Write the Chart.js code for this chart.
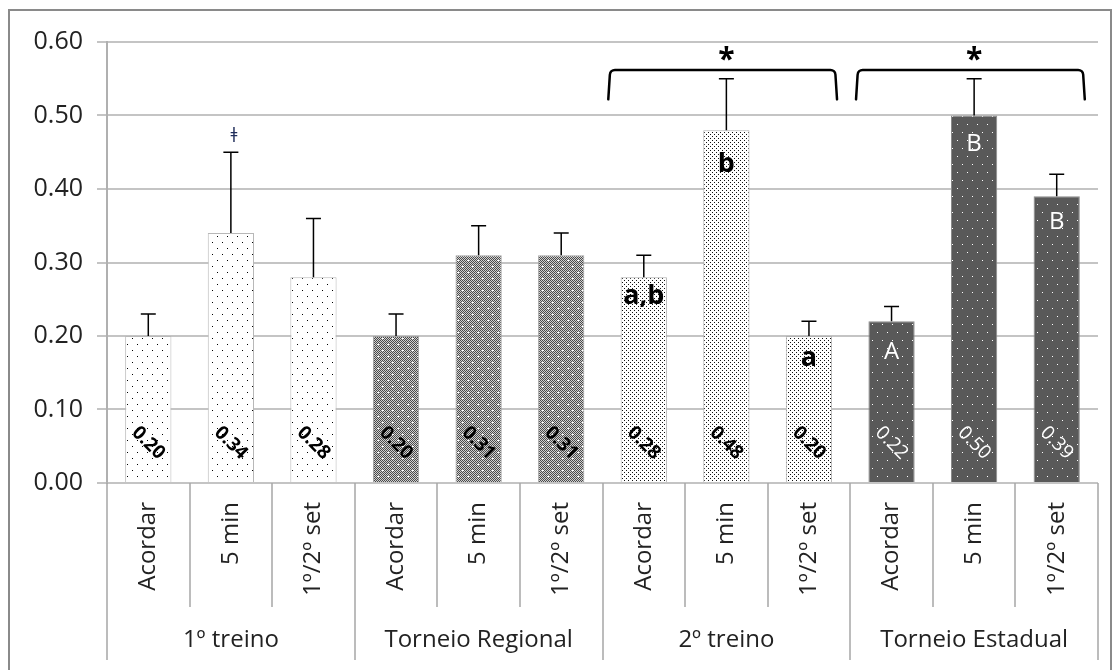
<!DOCTYPE html>
<html><head><meta charset="utf-8">
<script src="https://cdn.jsdelivr.net/npm/chart.js@4/dist/chart.umd.min.js"></script>
<style>html,body{margin:0;padding:0;background:#fff;}#wrap{width:1120px;height:670px;position:relative;}</style>
</head><body><div id="wrap"><canvas id="c" width="1120" height="670"></canvas></div>
<script>
// ---- data ----
const groups = ['1º treino', 'Torneio Regional', '2º treino', 'Torneio Estadual'];
const moments = ['Acordar', '5 min', '1º/2º set'];
const categories = ['Acordar','5 min','1º/2º set','Acordar','5 min','1º/2º set','Acordar','5 min','1º/2º set','Acordar','5 min','1º/2º set'];
const means  = [0.20, 0.34, 0.28, 0.20, 0.31, 0.31, 0.28, 0.48, 0.20, 0.22, 0.50, 0.39];
const errors = [0.03, 0.11, 0.08, 0.03, 0.04, 0.03, 0.03, 0.07, 0.02, 0.02, 0.05, 0.03];
const valueLabels = ['0.20','0.34','0.28','0.20','0.31','0.31','0.28','0.48','0.20','0.22','0.50','0.39'];
const letters = ['', '', '', '', '', '', 'a,b', 'b', 'a', 'A', 'B', 'B'];
const marks = ['', 'ǂ', '', '', '', '', '', '', '', '', '', ''];
const bracketGroups = [2, 3];
const bracketText = '*';
const yTicks = [0, 0.1, 0.2, 0.3, 0.4, 0.5, 0.6];

// ---- styles ----
const FONT = '"Open Sans", "DejaVu Sans", sans-serif';
function makePattern(w, h, bgFn, dots, dotColor) {
  const c = document.createElement('canvas');
  c.width = w; c.height = h;
  const g = c.getContext('2d');
  bgFn(g, w, h);
  g.fillStyle = dotColor;
  dots.forEach(d => g.fillRect(d[0], d[1], 1, 1));
  return document.createElement('canvas').getContext('2d').createPattern(c, 'repeat');
}
const solid = col => (g, w, h) => { g.fillStyle = col; g.fillRect(0, 0, w, h); };
const checker = (a, b) => (g, w, h) => {
  for (let y = 0; y < h; y++) for (let x = 0; x < w; x++) {
    g.fillStyle = ((x + y) % 2 === 0) ? a : b; g.fillRect(x, y, 1, 1);
  }
};
const patA = makePattern(10, 12, solid('#ffffff'), [[2,2],[7,8]], '#000000');
const patB = makePattern(10, 12, checker('#4a4a4a', '#d0d0d0'), [[2,2],[7,8],[3,2],[8,8]], '#ffffff');
const patC = makePattern(4, 4, solid('#ffffff'), [[0,0],[2,2]], '#101010');
const patD = makePattern(10, 16, solid('#595959'), [[2,4],[7,12]], '#ffffff');
const groupFill = [patA, patB, patC, patD];
const groupBorder = ['#b8b8b8', '#a0a0a0', '#b0b0b0', '#8a8a8a'];
const valueColor = ['#000', '#000', '#000', '#fff'];
const letterOffsets = [0,0,0,0,0,0,19,34,22,31,29,26];

const ctxEl = document.getElementById('c');

const annot = {
  id: 'annot',
  beforeDraw(chart) {
    const g = chart.ctx;
    g.save();
    g.strokeStyle = '#8a8a8a'; g.lineWidth = 2;
    g.beginPath();
    g.moveTo(9, 680); g.lineTo(9, 10); g.lineTo(1111, 10); g.lineTo(1111, 680);
    g.stroke();
    g.restore();
  },
  afterDatasetsDraw(chart) {
    const g = chart.ctx;
    const ys = chart.scales.y;
    const meta = chart.getDatasetMeta(0);
    const ca = chart.chartArea;
    const catW = (ca.right - ca.left) / categories.length;
    const base = ys.getPixelForValue(0);
    g.save();
    meta.data.forEach((bar, i) => {
      const grp = Math.floor(i / 3);
      const top = ys.getPixelForValue(means[i] + errors[i]);
      g.strokeStyle = '#000'; g.lineWidth = 1.5;
      g.beginPath();
      g.moveTo(bar.x, bar.y); g.lineTo(bar.x, top);
      g.moveTo(bar.x - 7.5, top); g.lineTo(bar.x + 7.5, top);
      g.stroke();
      g.save();
      g.translate(bar.x, base - 40);
      g.rotate(Math.PI / 4);
      g.fillStyle = valueColor[grp];
      g.font = (grp === 3 ? '' : 'bold ') + '19px ' + FONT;
      g.textAlign = 'center'; g.textBaseline = 'middle';
      g.fillText(valueLabels[i], 0, 0);
      g.restore();
      if (letters[i]) {
        const upper = letters[i] === letters[i].toUpperCase();
        g.fillStyle = upper ? '#fff' : '#000';
        g.font = upper ? '24px ' + FONT : 'bold 27px ' + FONT;
        g.textAlign = 'center'; g.textBaseline = 'middle';
        g.fillText(letters[i], bar.x, bar.y + letterOffsets[i]);
      }
      if (marks[i]) {
        g.fillStyle = '#1f2d5a';
        g.font = '15px "DejaVu Sans", sans-serif';
        g.textAlign = 'center'; g.textBaseline = 'middle';
        g.fillText(marks[i], bar.x + 3, top - 17);
      }
    });
    bracketGroups.forEach(gi => {
      const x0 = meta.data[gi * 3].x - 0.43 * catW;
      const x1 = meta.data[gi * 3 + 2].x + 0.34 * catW;
      const yt = ys.getPixelForValue(0.562);
      const yb = ys.getPixelForValue(0.522);
      g.strokeStyle = '#000'; g.lineWidth = 2.5; g.lineJoin = 'round'; g.lineCap = 'round';
      g.beginPath();
      g.moveTo(x0, yb);
      g.lineTo(x0 + 1.5, yt + 6);
      g.arcTo(x0 + 2, yt, x0 + 8, yt, 5);
      g.lineTo(x1 - 8, yt);
      g.arcTo(x1 - 2, yt, x1 - 1.5, yt + 6, 5);
      g.lineTo(x1, yb);
      g.stroke();
      g.fillStyle = '#000';
      g.font = 'bold 30px ' + FONT;
      g.textAlign = 'center'; g.textBaseline = 'middle';
      g.fillText(bracketText, meta.data[gi * 3 + 1].x, ys.getPixelForValue(0.575));
    });
    g.restore();
  },
  afterDraw(chart) {
    const g = chart.ctx;
    const ys = chart.scales.y;
    const ca = chart.chartArea;
    const meta = chart.getDatasetMeta(0);
    const n = categories.length;
    const catW = (ca.right - ca.left) / n;
    const base = ys.getPixelForValue(0);
    g.save();
    g.strokeStyle = '#a6a6a6'; g.lineWidth = 1.5;
    g.beginPath();
    for (let k = 0; k <= n; k++) {
      const x = Math.round(ca.left + k * catW);
      g.moveTo(x, base);
      g.lineTo(x, k % 3 === 0 ? 660 : 607);
    }
    g.stroke();
    g.fillStyle = '#222';
    g.font = '24px ' + FONT;
    meta.data.forEach((bar, i) => {
      g.save();
      g.translate(bar.x, 502);
      g.rotate(-Math.PI / 2);
      g.textAlign = 'right'; g.textBaseline = 'middle';
      g.fillText(categories[i], 0, 0);
      g.restore();
    });
    g.textAlign = 'center'; g.textBaseline = 'middle';
    groups.forEach((name, gi) => {
      const cx = (meta.data[gi * 3].x + meta.data[gi * 3 + 2].x) / 2;
      g.fillText(name, cx, 640);
    });
    g.restore();
  }
};

new Chart(ctxEl, {
  type: 'bar',
  data: {
    labels: categories,
    datasets: [{
      data: means,
      backgroundColor: means.map((v, i) => groupFill[Math.floor(i / 3)]),
      borderColor: means.map((v, i) => groupBorder[Math.floor(i / 3)]),
      borderWidth: 1,
      categoryPercentage: 0.56,
      barPercentage: 1
    }]
  },
  options: {
    responsive: false,
    animation: false,
    events: [],
    layout: { padding: { top: 42, right: 22, bottom: 187, left: 0 } },
    plugins: { legend: { display: false }, tooltip: { enabled: false } },
    scales: {
      x: { display: false },
      y: {
        min: 0, max: 0.6,
        afterFit(s) { s.width = 107; },
        afterBuildTicks(s) { s.ticks = yTicks.map(v => ({ value: v })); },
        ticks: {
          callback: v => v.toFixed(2),
          font: { family: FONT, size: 25 },
          color: '#222',
          padding: 14
        },
        grid: { color: '#c4c4c4', lineWidth: 2, tickLength: 10 },
        border: { color: '#b0b0b0', width: 2 }
      }
    }
  },
  plugins: [annot]
});
</script>
</body></html>
